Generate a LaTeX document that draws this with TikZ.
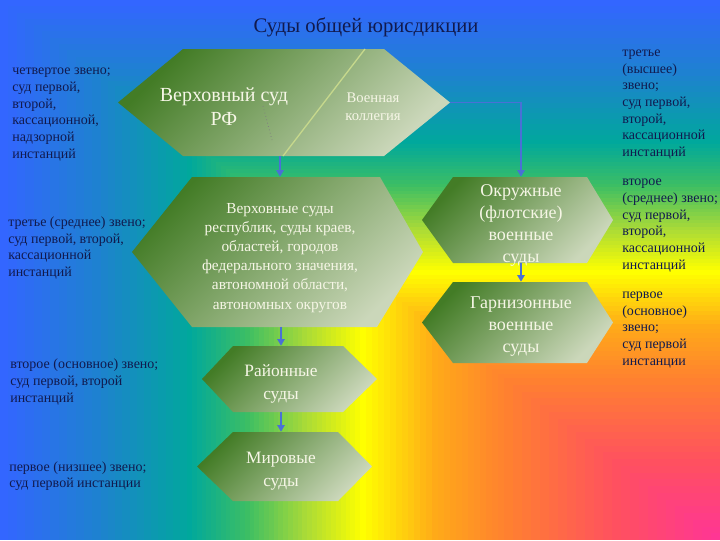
\documentclass[tikz,border=0pt]{standalone}
\usepackage{fontspec}
\setmainfont{Liberation Serif}
\usetikzlibrary{arrows.meta}

\definecolor{bgA}{HTML}{FF3399}
\definecolor{bgB}{HTML}{FF5060}
\definecolor{bgC}{HTML}{FF8030}
\definecolor{bgD}{HTML}{FFAA18}
\definecolor{bgE}{HTML}{FFFF00}
\definecolor{bgF}{HTML}{A8DA38}
\definecolor{bgG}{HTML}{3CBE64}
\definecolor{bgH}{HTML}{00A89C}
\definecolor{bgI}{HTML}{1C84CC}
\definecolor{bgJ}{HTML}{3366FF}
\definecolor{hexdark}{HTML}{437C26}
\definecolor{hexpale}{HTML}{CBD7BA}
\definecolor{hexletter}{HTML}{F6F6E6}
\definecolor{hexline}{HTML}{C6D88C}
\definecolor{sidetext}{HTML}{111A4E}
\definecolor{linkblue}{HTML}{4A70D6}

\tikzset{
  hexa/.style={top color=hexdark, bottom color=hexpale, shading angle=45},
  hexlabel/.style={align=center, text=hexletter, inner sep=0pt},
  sidelabel/.style={anchor=west, align=left, inner sep=0pt, text=sidetext, font=\fontsize{10.5}{12.5}\selectfont},
  link/.style={draw=linkblue, line width=1.6pt, -{Triangle[length=5pt,width=5.5pt]}},
}

\begin{document}
\begin{tikzpicture}[x=0.75pt,y=0.75pt,yscale=-1,xscale=1]
\useasboundingbox (0,0) rectangle (720,540);

%Background: rainbow from the lower right corner
\foreach \ta/\tb/\ca/\cb in {1.00/0.86/bgJ/bgI, 0.86/0.74/bgI/bgH, 0.74/0.66/bgH/bgG, 0.66/0.58/bgG/bgF, 0.58/0.50/bgF/bgE, 0.50/0.40/bgE/bgD, 0.40/0.30/bgD/bgC, 0.30/0.15/bgC/bgB, 0.15/0.00/bgB/bgA}{
  \foreach \k in {0,...,11}{
    \pgfmathsetmacro{\tq}{\ta+(\tb-\ta)*\k/12}
    \pgfmathtruncatemacro{\mixp}{100*\k/12}
    \colorlet{bandcol}{\cb!\mixp!\ca}
    \fill[bandcol] ({720*(1-\tq)},{540*(1-\tq)}) rectangle (720,540);
  }
}

%Shape: Hexagon [Верховный суд РФ]
\path[hexa] (118,102.5) -- (183,49) -- (384,49) -- (450,102.5) -- (384,156) -- (183,156) -- cycle;
%Straight Lines
\draw[color=hexline, line width=1pt] (365,49) -- (283,156);
\draw[dotted, color=gray, line width=0.6pt] (263,106) -- (272,140);
%Shape: Hexagon [Верховные суды республик]
\path[hexa] (132,252) -- (192,177) -- (380,177) -- (423,252) -- (377,327) -- (192,327) -- cycle;
%Shape: Hexagon [Районные суды]
\path[hexa] (202,379) -- (233,346) -- (343,346) -- (377,379) -- (343,412) -- (233,412) -- cycle;
%Shape: Hexagon [Мировые суды]
\path[hexa] (197,466.5) -- (233,432) -- (338,432) -- (372,466.5) -- (338,501) -- (233,501) -- cycle;
%Shape: Hexagon [Окружные суды]
\path[hexa] (422,220) -- (453,177) -- (587,177) -- (613,220) -- (587,263) -- (453,263) -- cycle;
%Shape: Hexagon [Гарнизонные суды]
\path[hexa] (422,322.5) -- (453,282) -- (587,282) -- (613,322.5) -- (587,363) -- (453,363) -- cycle;

% Text Node
\node[font=\fontsize{15.5}{19}\selectfont, text=sidetext, inner sep=0pt] (title) at (366,27) {Суды общей юрисдикции};
% Text Node
\node[hexlabel, font=\fontsize{15}{17.5}\selectfont, minimum height=86.25pt] (vs) at (224,106.5) {Верховный суд\\РФ};
% Text Node
\node[hexlabel, font=\fontsize{11}{13.5}\selectfont] (vk) at (373,107) {Военная\\коллегия};
% Text Node
\node[hexlabel, font=\fontsize{11.5}{14.3}\selectfont, minimum height=121.5pt] (vsr) at (280,258) {Верховные суды\\республик, суды краев,\\областей, городов\\федерального значения,\\автономной области,\\автономных округов};
% Text Node
\node[hexlabel, font=\fontsize{13}{17}\selectfont, minimum height=57pt] (rs) at (281,384) {Районные\\суды};
% Text Node
\node[hexlabel, font=\fontsize{13}{17}\selectfont, minimum height=59.25pt] (ms) at (281,471.5) {Мировые\\суды};
% Text Node
\node[hexlabel, font=\fontsize{13.5}{16.5}\selectfont, minimum height=72pt] (okr) at (521,225) {Окружные\\(флотские)\\военные\\суды};
% Text Node
\node[hexlabel, font=\fontsize{13.5}{16.5}\selectfont, minimum height=66.75pt] (gar) at (521,326.5) {Гарнизонные\\военные\\суды};

% Text Node
\node[sidelabel] (zv4) at (12,114.5) {четвертое звено;\\суд первой,\\второй,\\кассационной,\\надзорной\\инстанций};
% Text Node
\node[sidelabel] (zv3) at (8,248) {третье (среднее) звено;\\суд первой, второй,\\кассационной\\инстанций};
% Text Node
\node[sidelabel] (zv2) at (10,382) {второе (основное) звено;\\суд первой, второй\\инстанций};
% Text Node
\node[sidelabel] (zv1) at (9,476) {первое (низшее) звено;\\суд первой инстанции};
% Text Node
\node[sidelabel] (rz3) at (622,104.5) {третье\\(высшее)\\звено;\\суд первой,\\второй,\\кассационной\\инстанций};
% Text Node
\node[sidelabel] (rz2) at (622,225.5) {второе\\(среднее) звено;\\суд первой,\\второй,\\кассационной\\инстанций};
% Text Node
\node[sidelabel] (rz1) at (622,330) {первое\\(основное)\\звено;\\суд первой\\инстанции};

%Connectors
\coordinate (vkend) at (450,102.5);
\draw[link, shorten <=-6pt] (vs.south -| vsr.north) -- (vsr.north);
\draw[link, shorten <=-9pt] (vsr.south -| rs.north) -- (rs.north);
\draw[link, shorten <=-7.5pt] (rs.south) -- (ms.north);
\draw[link, line width=1.3pt] (vkend) -| (okr.north);
\draw[link, shorten <=-7.5pt] (okr.south) -- (gar.north);

\end{tikzpicture}
\end{document}
